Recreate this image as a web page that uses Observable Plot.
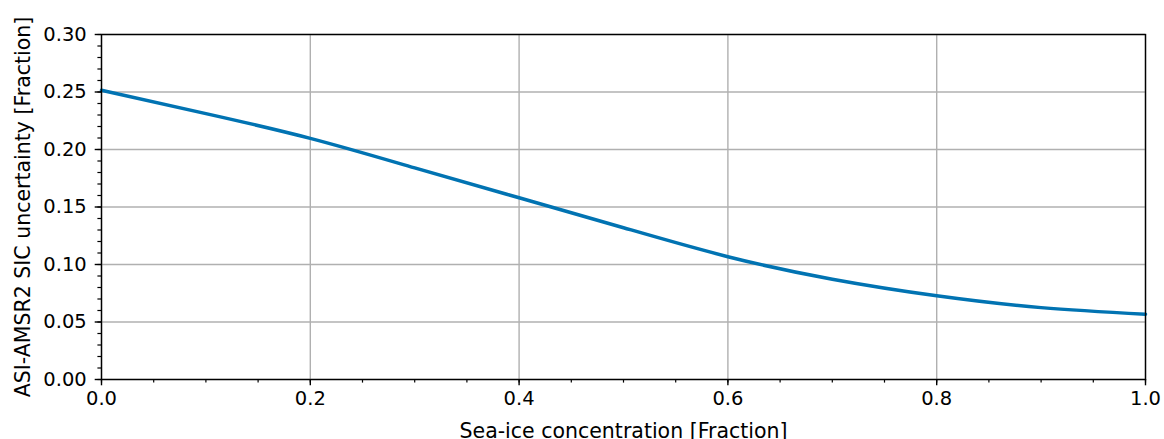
<!DOCTYPE html>
<html>
<head>
<meta charset="utf-8">
<script src="https://cdn.jsdelivr.net/npm/d3@7"></script>
<script src="https://cdn.jsdelivr.net/npm/@observablehq/plot@0.6"></script>
<style>
  html, body { margin: 0; padding: 0; background: #fff; }
  #chart svg { display: block; }
</style>
</head>
<body>
<div id="chart"></div>
<script>
const sic = [0.0, 0.1, 0.2, 0.3, 0.4, 0.5, 0.6, 0.7, 0.8, 0.9, 1.0];
const uncertainty = [0.2515, 0.2312, 0.2097, 0.1840, 0.1580, 0.1320, 0.1068, 0.0872, 0.0728, 0.0625, 0.0568];

const xTicks = [0.0, 0.2, 0.4, 0.6, 0.8, 1.0];
const yTicks = [0.00, 0.05, 0.10, 0.15, 0.20, 0.25, 0.30];
const xMinorTicks = d3.range(0, 21).map(i => i * 0.05);
const yMinorTicks = d3.range(0, 31).map(i => i * 0.01);

const xLabel = "Sea-ice concentration [Fraction]";
const yLabel = "ASI-AMSR2 SIC uncertainty [Fraction]";

const data = sic.map((x, i) => ({x, y: uncertainty[i]}));

const font = "DejaVu Sans";
const tickFs = 19.5;
const labelFs = 20.5;

const chart = Plot.plot({
  width: 1164,
  height: 439,
  marginLeft: 101,
  marginRight: 19,
  marginTop: 34,
  marginBottom: 60,
  style: {fontFamily: font, fontSize: tickFs + "px", color: "black", background: "white", overflow: "visible"},
  x: {domain: [0, 1]},
  y: {domain: [0, 0.30]},
  marks: [
    Plot.gridX(xTicks, {stroke: "#b0b0b0", strokeOpacity: 1, strokeWidth: 1.4}),
    Plot.gridY(yTicks, {stroke: "#b0b0b0", strokeOpacity: 1, strokeWidth: 1.4}),
    Plot.line(data, {x: "x", y: "y", stroke: "#0173b2", strokeWidth: 3.5, curve: "natural"}),
    Plot.frame({stroke: "black", strokeWidth: 1.4}),
    Plot.axisX(xMinorTicks, {tickSize: 3.6, text: null, label: null, strokeWidth: 1.2}),
    Plot.axisY(yMinorTicks, {tickSize: 3.6, text: null, label: null, strokeWidth: 1.2}),
    Plot.axisX(xTicks, {
      tickSize: 6.3, tickPadding: 5, strokeWidth: 1.4,
      tickFormat: d => d.toFixed(1), fontSize: tickFs,
      label: null
    }),
    Plot.axisY(yTicks, {
      tickSize: 6.3, tickPadding: 8.5, strokeWidth: 1.4,
      tickFormat: d => d.toFixed(2), fontSize: tickFs,
      label: null
    }),
    Plot.axisX({
      ticks: [], tickSize: 0, fontSize: labelFs,
      label: xLabel, labelAnchor: "center", labelArrow: "none", labelOffset: 58
    }),
    Plot.axisY({
      ticks: [], tickSize: 0, fontSize: labelFs,
      label: yLabel, labelAnchor: "center", labelArrow: "none", labelOffset: 86
    })
  ]
});
document.getElementById("chart").appendChild(chart);
</script>
</body>
</html>
